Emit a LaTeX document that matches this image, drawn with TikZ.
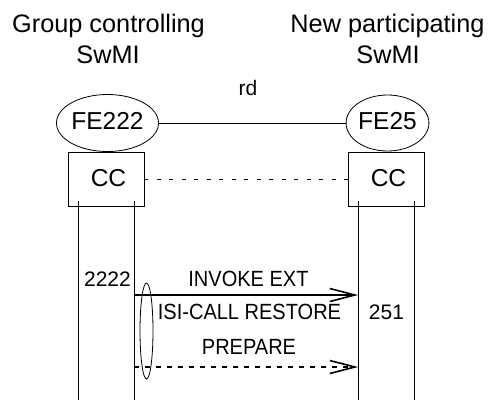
\documentclass[tikz,border=0pt]{standalone}
\usepackage{fontspec}
\setmainfont{Liberation Sans}
\newfontfamily\msgfont{Liberation Sans}[FakeStretch=0.91]
\usetikzlibrary{shapes.geometric,arrows.meta}
\begin{document}
\begin{tikzpicture}[x=1pt,y=-1pt,
  head/.style={font=\fontsize{25.3}{30}\selectfont, inner sep=0pt, anchor=base},
  fe/.style={draw, ellipse, line width=0.8pt, inner sep=0pt,
    font=\fontsize{24.5}{29}\selectfont, text height=17.5pt, text depth=5.5pt},
  ccbox/.style={draw, rectangle, line width=0.9pt, inner sep=0pt,
    minimum width=76pt, minimum height=54pt,
    font=\fontsize{24.5}{29}\selectfont, text height=17.5pt, text depth=3.5pt},
  life/.style={line width=0.9pt},
  lbl/.style={font=\fontsize{21}{25}\selectfont, inner sep=0pt, anchor=base},
  msglbl/.style={font=\msgfont\fontsize{22}{26}\selectfont, inner sep=0pt, anchor=base},
  msg/.style={line width=1.8pt, -{Straight Barb[length=25pt,width=13pt,line width=1.6pt]}},
  msgdash/.style={msg, dash pattern=on 5pt off 6pt}
]
\useasboundingbox (0,0) rectangle (488,400);

% headings
\node[head] (h1a) at (108.5,32) {Group controlling};
\node[head] (h1b) at (108,63) {SwMI};
\node[head] (h2a) at (387.5,32) {New participating};
\node[head] (h2b) at (388,63) {SwMI};

% functional entities
\node[fe, minimum width=87pt, minimum height=57pt] (fe1) at (107.5,123) {FE222};
\node[fe, minimum width=81pt, minimum height=56pt] (fe2) at (387.5,123) {FE25};
\draw[line width=0.8pt] (fe1) -- (fe2);
\node[lbl] (rd) at (248,95) {rd};

% CC boxes
\node[ccbox] (cc1) at (106,179) {\kern5pt CC};
\node[ccbox] (cc2) at (386,179) {\kern5pt CC};
\draw[line width=0.8pt, dash pattern=on 4pt off 8.5pt] (cc1.east) -- (cc2.west);

% lifelines
\coordinate (l1t) at (78,201);  \coordinate (l1b) at (78,400);
\coordinate (l2t) at (134,201); \coordinate (l2b) at (134,400);
\coordinate (l3t) at (358,201); \coordinate (l3b) at (358,400);
\coordinate (l4t) at (414,201); \coordinate (l4b) at (414,400);
\draw[life] (l1t) -- (l1b);
\draw[life] (l2t) -- (l2b);
\draw[life] (l3t) -- (l3b);
\draw[life] (l4t) -- (l4b);

% labels on lifelines
\node[lbl] (n2222) at (107.5,286) {2222};
\node[lbl] (n251) at (386.5,319) {251};

% messages
\coordinate (m1s) at (134,295); \coordinate (m1e) at (358,295);
\coordinate (m2s) at (134,367); \coordinate (m2e) at (358,367);
\draw[msg] (m1s) -- (m1e);
\draw[msgdash] (m2s) -- (m2e);
\node[msglbl] (t1) at (248.5,286) {INVOKE EXT};
\node[msglbl] (t2) at (249.5,319) {ISI-CALL RESTORE};
\node[msglbl] (t3) at (249,354) {PREPARE};

% grouping ellipse
\node[draw, ellipse, line width=0.8pt, inner sep=0pt,
  minimum width=13pt, minimum height=96pt] (grp) at (146.5,331) {};
\end{tikzpicture}
\end{document}
